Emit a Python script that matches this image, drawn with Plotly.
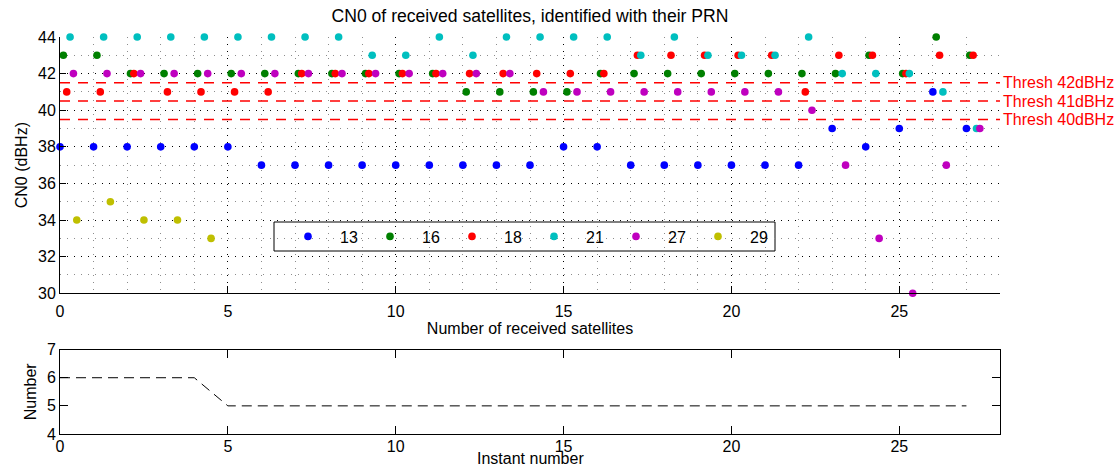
import plotly.graph_objects as go

# Instants and C/N0 (dBHz) of each tracked satellite, keyed by PRN (None = not received)
instants = list(range(28))
prn_labels = ["13", "16", "18", "21", "27", "29"]
cn0_prn13 = [38, 38, 38, 38, 38, 38, 37, 37, 37, 37, 37, 37, 37, 37,
             37, 38, 38, 37, 37, 37, 37, 37, 37, 39, 38, 39, 41, 39]
cn0_prn16 = [43, 43, 42, 42, 42, 42, 42, 42, 42, 42, 42, 42, 41, 41,
             41, 41, 42, 42, 42, 42, 42, 42, 42, 42, 43, 42, 44, 43]
cn0_prn18 = [41, 41, 42, 41, 41, 41, 41, 42, 42, 42, 42, 42, 42, 42,
             42, 42, 42, 43, 43, 43, 43, 43, 41, 43, 43, 42, 43, 43]
cn0_prn21 = [44, 44, 44, 44, 44, 44, 44, 44, 44, 43, 43, 44, 43, 44,
             44, 44, 44, 43, 44, 43, 43, 43, 44, 42, 42, 42, 41, 39]
cn0_prn27 = [42, 42, 42, 42, 42, 42, 42, 42, 42, 42, 42, 42, 42, 42,
             41, 41, 41, 41, 41, 41, 41, 41, 40, 37, 33, 30, 37, 39]
cn0_prn29 = [34, 35, 34, 34, 33] + [None] * 23

thresholds_dbhz = [42, 41, 40]

series = [cn0_prn13, cn0_prn16, cn0_prn18, cn0_prn21, cn0_prn27, cn0_prn29]
colors = ["#0000ff", "#008000", "#ff0000", "#00bfbf", "#bf00bf", "#bfbf00"]
FONT = "Liberation Sans, Arial, Helvetica, sans-serif"

# number of satellites received at each instant
n_received = [sum(1 for s in series if s[i] is not None) for i in instants]

# figure geometry (px) used to place the plot areas and the legend box
W, H = 1115, 468
M_L, M_R, M_T, M_B = 60, 115, 37, 34
PW, PH = W - M_L - M_R, H - M_T - M_B


def px_x(px):
    return (px - M_L) / PW


def px_y(px):
    return (H - M_B - px) / PH


fig = go.Figure()

# each PRN is drawn slightly shifted to the right so the markers stay readable
for k, (label, vals, col) in enumerate(zip(prn_labels, series, colors)):
    xs = [i + 0.1 * k for i, v in zip(instants, vals) if v is not None]
    ys = [v for v in vals if v is not None]
    fig.add_trace(go.Scatter(
        x=xs, y=ys, mode="markers", name=label,
        marker=dict(color=col, size=7.6, line=dict(width=0)),
        cliponaxis=False, xaxis="x", yaxis="y"))

fig.add_trace(go.Scatter(
    x=instants, y=n_received, mode="lines", showlegend=False,
    line=dict(color="black", width=1, dash="10px,6px"),
    xaxis="x2", yaxis="y2"))

shapes = []
annotations = []
for t in thresholds_dbhz:
    shapes.append(dict(type="line", xref="x", yref="y", x0=0, x1=28,
                       y0=t - 0.5, y1=t - 0.5,
                       line=dict(color="#ff0000", width=1.5, dash="10px,8px")))
    annotations.append(dict(x=28, y=t - 0.5, xref="x", yref="y",
                            text=f"Thresh {t}dBHz", showarrow=False,
                            xanchor="left", yanchor="middle", xshift=1,
                            font=dict(color="#ff0000", size=16, family=FONT)))

# legend frame (white box with black border, above the grid)
shapes.append(dict(type="rect", xref="paper", yref="paper", layer="between",
                   x0=px_x(274), x1=px_x(775), y0=px_y(251), y1=px_y(222),
                   fillcolor="white", line=dict(color="black", width=1)))

# bottom axis title
annotations.append(dict(text="Instant number", x=0.5, xref="paper",
                        y=px_y(468), yref="paper", showarrow=False,
                        yanchor="bottom", yshift=-1,
                        font=dict(size=16, family=FONT)))

grid_dash = "1px,6px"
common = dict(showline=True, linecolor="black", linewidth=1, zeroline=False,
              ticks="inside", tickcolor="black", automargin=False,
              tickfont=dict(size=16, family=FONT, color="black"))

fig.update_layout(
    width=W, height=H,
    margin=dict(l=M_L, r=M_R, t=M_T, b=M_B, autoexpand=False),
    paper_bgcolor="white", plot_bgcolor="white",
    font=dict(family=FONT, size=16, color="black"),
    title=dict(text="CN0 of received satellites, identified with their PRN",
               x=0.5, xref="paper", y=1 - 16 / H, yref="container",
               yanchor="middle", font=dict(size=17.6, family=FONT)),
    xaxis=dict(domain=[0, 1], anchor="y", range=[0, 28], tick0=0, dtick=5,
               ticklen=7, ticklabelstandoff=3,
               showgrid=True, gridcolor="black", griddash=grid_dash,
               gridwidth=1,
               minor=dict(dtick=1, tick0=0, showgrid=True, gridcolor="#8c8c8c",
                          griddash=grid_dash, gridwidth=1, ticks=""),
               title=dict(text="Number of received satellites", standoff=4,
                          font=dict(size=16)),
               **common),
    yaxis=dict(domain=[px_y(293.3), 1], anchor="x", range=[30, 44], tick0=30,
               dtick=2, ticklen=6, showgrid=True, gridcolor="black",
               griddash=grid_dash, gridwidth=1,
               minor=dict(dtick=1, tick0=30, showgrid=True, gridcolor="#8c8c8c",
                          griddash=grid_dash, gridwidth=1, ticks=""),
               title=dict(text="CN0 (dBHz)", standoff=6, font=dict(size=16)),
               **common),
    xaxis2=dict(domain=[0, 1], anchor="y2", range=[0, 28], tick0=0, dtick=5,
                ticklen=8, ticklabelstandoff=-2, mirror="ticks", showgrid=False,
                **common),
    yaxis2=dict(domain=[0, px_y(349.6)], anchor="x2", range=[4, 7], dtick=1,
                ticklen=8, mirror="ticks", showgrid=False,
                title=dict(text="Number", standoff=6, font=dict(size=16)),
                **common),
    shapes=shapes,
    annotations=annotations,
    showlegend=True,
    legend=dict(orientation="h", x=px_x(276), y=px_y(236.5),
                xanchor="left", yanchor="middle", xref="paper", yref="paper",
                bgcolor="rgba(0,0,0,0)", borderwidth=0,
                itemwidth=54, entrywidth=13, entrywidthmode="pixels",
                font=dict(size=16, family=FONT), valign="middle"),
)

fig.write_html("out.html")
